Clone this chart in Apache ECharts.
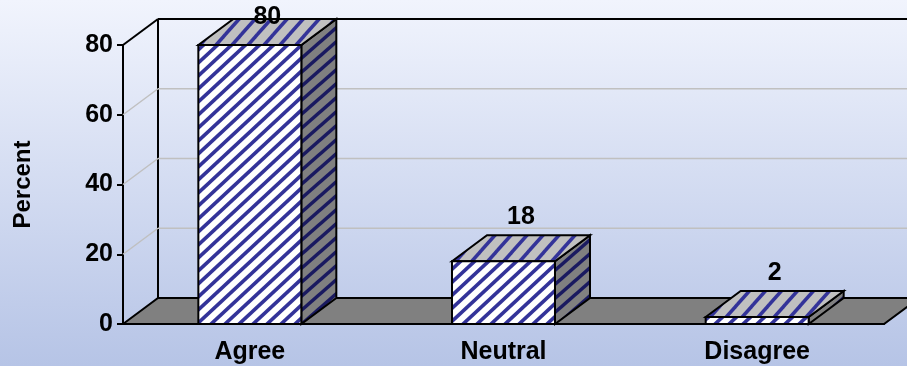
<!DOCTYPE html>
<html>
<head>
<meta charset="utf-8">
<style>html,body{margin:0;padding:0}#chart{width:907px;height:366px}</style>
<script src="https://cdn.jsdelivr.net/npm/echarts@6/dist/echarts.min.js"></script>
</head>
<body>
<div id="chart"></div>
<script>
// Survey responses, in percent
const categories = ['Agree', 'Neutral', 'Disagree'];
const percent = [80, 18, 2];
const yTicks = [0, 20, 40, 60, 80];

// Pseudo-3D depth of the plot box, in pixels
const DEPTH_X = 35;
const DEPTH_Y = 26;
const FONT = '"Liberation Sans", Arial, sans-serif';
const FONT_SIZE = 25;

// Seamless diagonal hatch tile for bar faces
function hatch(w, h, bg, fg, lineWidth) {
  const c = document.createElement('canvas');
  c.width = w;
  c.height = h;
  const g = c.getContext('2d');
  g.fillStyle = bg;
  g.fillRect(0, 0, w, h);
  g.strokeStyle = fg;
  g.lineWidth = lineWidth;
  // Strokes run past the tile so that no cap shows at its corners
  for (let o = -w; o <= w; o += w) {
    g.beginPath();
    g.moveTo(o - w, 2 * h);
    g.lineTo(o + 2 * w, -h);
    g.stroke();
  }
  return { image: c, repeat: 'repeat' };
}
const frontFill = hatch(14, 13, '#ffffff', '#333399', 3.6);
const topFill = hatch(16, 18, '#c0c0c0', '#333399', 3.5);
const sideFill = hatch(16, 14, '#808080', '#1a1a60', 3.5);

function line(x1, y1, x2, y2, stroke, width) {
  return { type: 'line', shape: { x1, y1, x2, y2 }, style: { stroke, lineWidth: width, fill: null } };
}
function poly(points, fill) {
  return { type: 'polygon', shape: { points }, style: { fill, stroke: '#000', lineWidth: 2, lineJoin: 'miter' } };
}

// Floor, back wall and gridlines, one call per y tick
function renderWall(params, api) {
  const sys = params.coordSys;
  const value = api.value(1);
  const y = api.coord([0, value])[1];
  const left = sys.x;
  const right = sys.x + sys.width;
  const children = [];
  if (value === 0) {
    children.push(poly([[left, y], [left + DEPTH_X, y - DEPTH_Y], [right + DEPTH_X, y - DEPTH_Y], [right, y]], '#808080'));
    children.push(line(left + DEPTH_X, y - DEPTH_Y, left + DEPTH_X, sys.y - DEPTH_Y, '#000', 2));
  } else {
    const top = value === yTicks[yTicks.length - 1];
    const color = top ? '#000' : '#c0c0c0';
    const width = top ? 2 : 1.5;
    children.push(line(left, y, left + DEPTH_X, y - DEPTH_Y, color, width));
    children.push(line(left + DEPTH_X, y - DEPTH_Y, right + DEPTH_X, y - DEPTH_Y, color, width));
  }
  return { type: 'group', children };
}

// Hatched box for one category, with its value above the top face
function renderBar(params, api) {
  const value = api.value(1);
  const base = api.coord([api.value(0), 0]);
  const head = api.coord([api.value(0), value]);
  const half = api.size([1, 0])[0] * 0.203;
  const l = base[0] - half;
  const r = base[0] + half;
  const b = base[1];
  const t = head[1];
  return {
    type: 'group',
    children: [
      poly([[r, t], [r + DEPTH_X, t - DEPTH_Y], [r + DEPTH_X, b - DEPTH_Y], [r, b]], sideFill),
      poly([[l, t], [l + DEPTH_X, t - DEPTH_Y], [r + DEPTH_X, t - DEPTH_Y], [r, t]], topFill),
      poly([[l, t], [r, t], [r, b], [l, b]], frontFill),
      {
        type: 'text',
        x: base[0] + DEPTH_X / 2,
        y: Math.max(17, t - 44),
        style: {
          text: String(value),
          font: 'bold ' + FONT_SIZE + 'px ' + FONT,
          fill: '#000',
          align: 'center',
          verticalAlign: 'middle'
        }
      }
    ]
  };
}

const chart = echarts.init(document.getElementById('chart'));
chart.setOption({
  animation: false,
  backgroundColor: {
    type: 'linear', x: 0, y: 0, x2: 0, y2: 1,
    colorStops: [
      { offset: 0, color: '#f1f4fd' },
      { offset: 1, color: '#b6c4e6' }
    ]
  },
  grid: { left: 123, top: 45, width: 761, height: 279 },
  xAxis: {
    type: 'category',
    data: categories,
    axisLine: { lineStyle: { color: '#000', width: 2 } },
    axisTick: { alignWithLabel: false, length: 6, lineStyle: { color: '#000', width: 2 } },
    axisLabel: { color: '#000', fontFamily: FONT, fontWeight: 'bold', fontSize: FONT_SIZE, margin: 16 }
  },
  yAxis: {
    type: 'value',
    min: 0,
    max: 80,
    interval: 20,
    name: 'Percent',
    nameLocation: 'middle',
    nameRotate: 90,
    nameGap: 88,
    nameTextStyle: { color: '#000', fontFamily: FONT, fontWeight: 'bold', fontSize: 24 },
    axisLine: { show: true, lineStyle: { color: '#000', width: 2 } },
    axisTick: { show: true, length: 6, lineStyle: { color: '#000', width: 2 } },
    axisLabel: { color: '#000', fontFamily: FONT, fontWeight: 'bold', fontSize: FONT_SIZE, margin: 10 },
    splitLine: { show: false }
  },
  series: [
    {
      type: 'custom',
      z: 1,
      silent: true,
      renderItem: renderWall,
      data: yTicks.map(t => [0, t])
    },
    {
      type: 'custom',
      z: 3,
      renderItem: renderBar,
      data: percent.map((v, i) => [i, v])
    }
  ]
});
</script>
</body>
</html>
